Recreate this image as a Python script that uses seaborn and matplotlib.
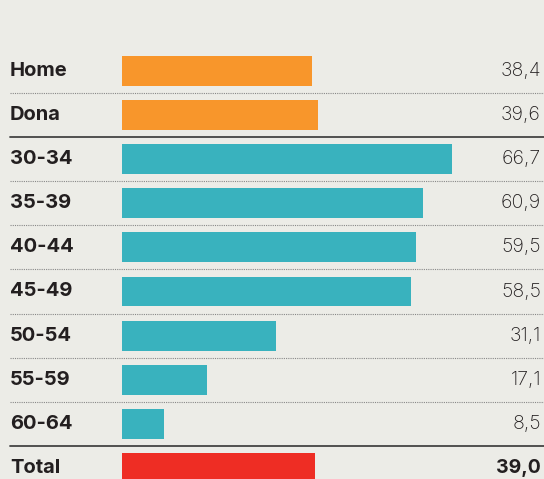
import seaborn as sns
import matplotlib.pyplot as plt
import pandas as pd
import numpy as np

categories = ['Home', 'Dona', '30-34', '35-39', '40-44', '45-49',
              '50-54', '55-59', '60-64', 'Total']
values = [38.4, 39.6, 66.7, 60.9, 59.5, 58.5, 31.1, 17.1, 8.5, 39.0]
groups = ['sexe', 'sexe', 'edat', 'edat', 'edat', 'edat',
          'edat', 'edat', 'edat', 'total']

palette = {'sexe': '#F8962B', 'edat': '#39B2BE', 'total': '#EE2D24'}
bg = '#ECECE7'

df = pd.DataFrame({'cat': categories, 'val': values, 'grup': groups})

sns.set_theme(style='white')
plt.rcParams['font.family'] = ['Inter', 'DejaVu Sans']

fig = plt.figure(figsize=(5.44, 4.79), dpi=100, facecolor=bg)
ax = fig.add_axes([0, 0, 1, 1], facecolor=bg)

sns.barplot(data=df, y='cat', x='val', hue='grup', palette=palette,
            orient='h', width=0.68, dodge=False, legend=False,
            saturation=1, linewidth=0, ax=ax)

# escala en píxels: x0 a 122 px, 4.948 px per unitat; files cada 44.1 px des de 71 px
ax.set_xlim(-122 / 4.948, (544 - 122) / 4.948)
ax.set_ylim((479 - 71) / 44.1, -71 / 44.1)
ax.axis('off')

for i, (c, v) in enumerate(zip(categories, values)):
    ax.text(10 / 544, i, c, transform=ax.get_yaxis_transform(),
            ha='left', va='center', fontsize=14.5, fontweight='bold', color='#231F20')
    ax.text(541 / 544, i, f'{v:.1f}'.replace('.', ','),
            transform=ax.get_yaxis_transform(), ha='right', va='center',
            fontsize=14, color='#231F20',
            fontweight='bold' if c == 'Total' else 'light')

# separadors
for i in range(len(categories) - 1):
    y = i + 0.5
    if i in (1, 8):
        ax.axhline(y, xmin=10 / 544, xmax=1, color='#444444', lw=1.3)
    else:
        ax.axhline(y, xmin=10 / 544, xmax=1, color='#888888', lw=0.8, ls=(0, (1, 1)))

plt.savefig('out.png', dpi=100, facecolor=bg)
